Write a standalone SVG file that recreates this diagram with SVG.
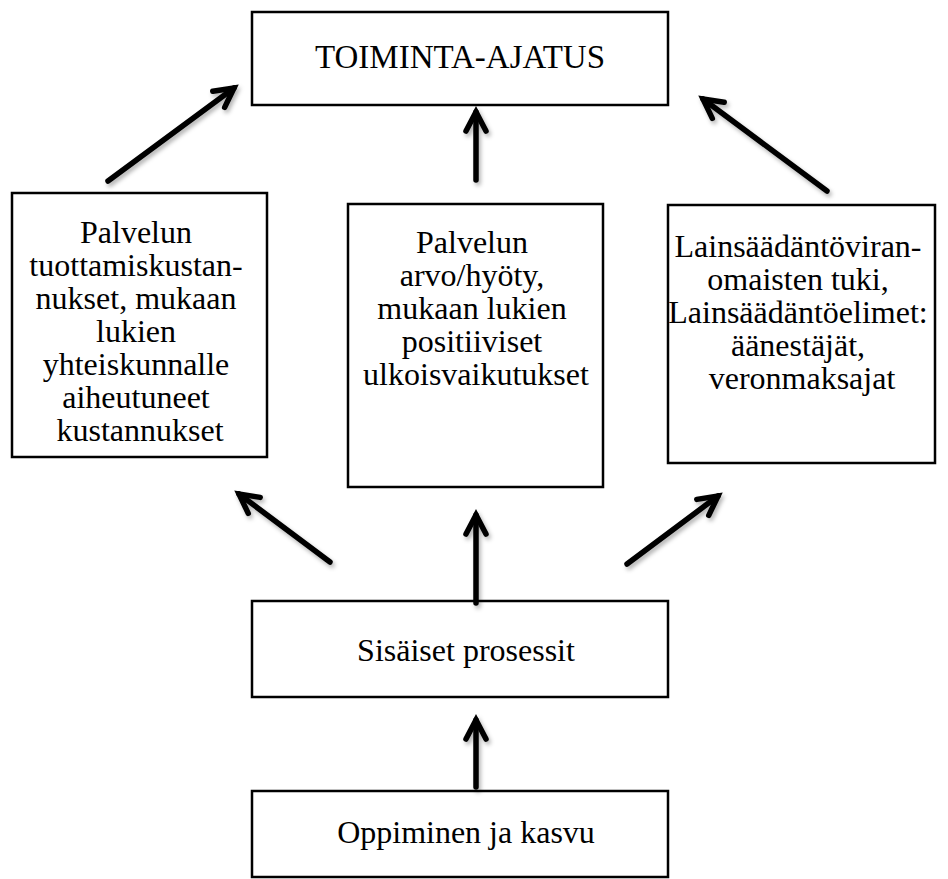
<svg xmlns="http://www.w3.org/2000/svg" width="948" height="879" viewBox="0 0 948 879">
  <style>
    .box { fill: #ffffff; stroke: #000000; stroke-width: 2.5; }
    .lbl { font-family: "Liberation Serif", "Times New Roman", serif; font-size: 32px; fill: #000000; text-anchor: middle; }
    .title { font-size: 33px; }
    .arrow { fill: none; stroke: #000000; stroke-width: 5.5; stroke-linecap: round; marker-end: url(#head); }
  </style>
  <defs>
    <marker id="head" markerUnits="userSpaceOnUse" viewBox="-24 -14 30 28" refX="0" refY="0" markerWidth="30" markerHeight="28" orient="auto">
      <path d="M -19 -10 L 0 0 L -19 10" fill="none" stroke="#000000" stroke-width="5.5" stroke-linecap="round" stroke-linejoin="miter"/>
    </marker>
    <filter id="shadow" x="-20%" y="-20%" width="140%" height="140%">
      <feDropShadow dx="2" dy="3" stdDeviation="2" flood-color="#000000" flood-opacity="0.3"/>
    </filter>
  </defs>

  <rect width="948" height="879" fill="#ffffff"/>

  <g id="toiminta-ajatus">
    <rect class="box" x="252" y="12" width="416" height="93"/>
    <text class="lbl title" x="460" y="68">TOIMINTA-AJATUS</text>
  </g>

  <g id="kustannukset">
    <rect class="box" x="12" y="193" width="255" height="264"/>
    <text class="lbl">
      <tspan x="140" y="243">Palvelun</tspan>
      <tspan x="140" y="276">tuottamiskustan-</tspan>
      <tspan x="140" y="309">nukset, mukaan</tspan>
      <tspan x="140" y="342">lukien</tspan>
      <tspan x="140" y="375">yhteiskunnalle</tspan>
      <tspan x="140" y="408">aiheutuneet</tspan>
      <tspan x="140" y="441">kustannukset</tspan>
    </text>
  </g>

  <g id="arvo-hyoty">
    <rect class="box" x="348" y="204" width="255" height="283"/>
    <text class="lbl">
      <tspan x="476" y="253">Palvelun</tspan>
      <tspan x="476" y="286">arvo/hyöty,</tspan>
      <tspan x="476" y="319">mukaan lukien</tspan>
      <tspan x="476" y="352">positiiviset</tspan>
      <tspan x="476" y="385">ulkoisvaikutukset</tspan>
    </text>
  </g>

  <g id="lainsaadanto">
    <rect class="box" x="668" y="205" width="267" height="258"/>
    <text class="lbl">
      <tspan x="802" y="257">Lainsäädäntöviran-</tspan>
      <tspan x="802" y="290">omaisten tuki,</tspan>
      <tspan x="802" y="323">Lainsäädäntöelimet:</tspan>
      <tspan x="802" y="356">äänestäjät,</tspan>
      <tspan x="802" y="389">veronmaksajat</tspan>
    </text>
  </g>

  <g id="sisaiset-prosessit">
    <rect class="box" x="252" y="601" width="416" height="96"/>
    <text class="lbl" x="466" y="661">Sisäiset prosessit</text>
  </g>

  <g id="oppiminen">
    <rect class="box" x="252" y="791" width="416" height="86"/>
    <text class="lbl" x="466" y="843">Oppiminen ja kasvu</text>
  </g>

  <g id="connectors" filter="url(#shadow)">
    <line class="arrow" x1="108" y1="181" x2="234" y2="88"/>
    <line class="arrow" x1="476" y1="180" x2="476" y2="112"/>
    <line class="arrow" x1="827" y1="191" x2="703" y2="99"/>
    <line class="arrow" x1="330" y1="562" x2="239" y2="494"/>
    <line class="arrow" x1="476" y1="603" x2="476" y2="515"/>
    <line class="arrow" x1="627" y1="564" x2="718" y2="496"/>
    <line class="arrow" x1="476" y1="787" x2="476" y2="720"/>
  </g>
</svg>
